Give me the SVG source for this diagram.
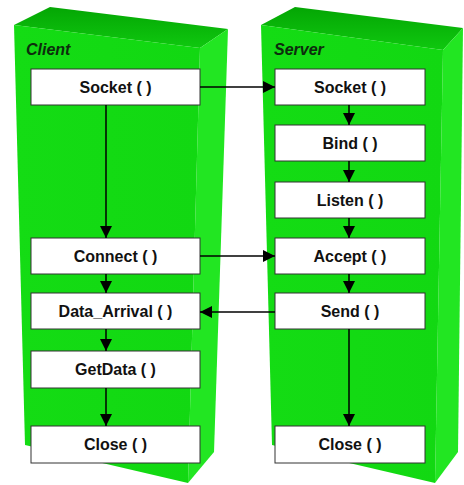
<svg xmlns="http://www.w3.org/2000/svg" width="464" height="485" viewBox="0 0 464 485">
<defs>
<linearGradient id="topG" x1="0" y1="0" x2="0" y2="1">
<stop offset="0" stop-color="#04a604"/>
<stop offset="1" stop-color="#0fc80f"/>
</linearGradient>
<linearGradient id="frontG" x1="0" y1="0" x2="1" y2="0">
<stop offset="0" stop-color="#14dc14"/>
<stop offset="1" stop-color="#12d812"/>
</linearGradient>
<marker id="ah" viewBox="0 0 12 12" refX="12" refY="6" markerWidth="12" markerHeight="12" markerUnits="userSpaceOnUse" orient="auto">
<path d="M0,0 L12,6 L0,12 z" fill="#000"/>
</marker>
</defs>
<style>
.top{fill:url(#topG)}
.front{fill:url(#frontG)}
.side{fill:#22e622}
.box{fill:#fff;stroke:#333;stroke-width:1}
.lbl{font-family:"Liberation Sans",Arial,sans-serif;font-size:16px;font-weight:bold;fill:#111;text-anchor:middle}
.title{font-family:"Liberation Sans",Arial,sans-serif;font-size:16px;font-weight:bold;font-style:italic;fill:#0d2d0d}
.con{stroke:#000;stroke-width:1.5;fill:none;marker-end:url(#ah)}
</style>
<rect width="464" height="485" fill="#fff"/>
<g id="client-pillar">
<polygon class="top" points="14,25 50,7 228,29 200,48"/>
<polygon class="side" points="200,48 228,29 214,452 188,483"/>
<polygon class="front" points="14,25 200,48 188,483 25,445"/>
<text class="title" x="26" y="55">Client</text>
</g>
<g id="server-pillar">
<polygon class="top" points="261,25 295,7 463,28 443,50"/>
<polygon class="side" points="443,50 463,28 458,452 435,483"/>
<polygon class="front" points="261,25 443,50 435,483 272,445"/>
<text class="title" x="274" y="55">Server</text>
</g>
<g id="c-socket"><rect class="box" x="31" y="69" width="169" height="36"/><text class="lbl" x="115.5" y="92.7">Socket ( )</text></g>
<g id="c-connect"><rect class="box" x="31" y="238" width="169" height="36"/><text class="lbl" x="115.5" y="261.7">Connect ( )</text></g>
<g id="c-data"><rect class="box" x="31" y="293" width="169" height="36"/><text class="lbl" x="115.5" y="316.7">Data_Arrival ( )</text></g>
<g id="c-getdata"><rect class="box" x="31" y="351" width="169" height="37"/><text class="lbl" x="115.5" y="375.2">GetData ( )</text></g>
<g id="c-close"><rect class="box" x="31" y="426" width="169" height="37"/><text class="lbl" x="115.5" y="450.2">Close ( )</text></g>
<g id="s-socket"><rect class="box" x="275" y="69" width="150" height="36"/><text class="lbl" x="350" y="92.7">Socket ( )</text></g>
<g id="s-bind"><rect class="box" x="275" y="125" width="150" height="36"/><text class="lbl" x="350" y="148.7">Bind ( )</text></g>
<g id="s-listen"><rect class="box" x="275" y="182" width="150" height="36"/><text class="lbl" x="350" y="205.7">Listen ( )</text></g>
<g id="s-accept"><rect class="box" x="275" y="238" width="150" height="36"/><text class="lbl" x="350" y="261.7">Accept ( )</text></g>
<g id="s-send"><rect class="box" x="275" y="293" width="150" height="36"/><text class="lbl" x="350" y="316.7">Send ( )</text></g>
<g id="s-close"><rect class="box" x="275" y="426" width="150" height="37"/><text class="lbl" x="350" y="450.2">Close ( )</text></g>
<g id="connectors">
<line class="con" x1="106" y1="105" x2="106" y2="238"/>
<line class="con" x1="106" y1="274" x2="106" y2="293"/>
<line class="con" x1="106" y1="329" x2="106" y2="351"/>
<line class="con" x1="106" y1="388" x2="106" y2="426"/>
<line class="con" x1="349" y1="105" x2="349" y2="125"/>
<line class="con" x1="349" y1="161" x2="349" y2="182"/>
<line class="con" x1="349" y1="218" x2="349" y2="238"/>
<line class="con" x1="349" y1="274" x2="349" y2="293"/>
<line class="con" x1="349" y1="329" x2="349" y2="426"/>
<line class="con" x1="200" y1="87" x2="275" y2="87"/>
<line class="con" x1="200" y1="256" x2="275" y2="256"/>
<line class="con" x1="275" y1="312" x2="200" y2="312"/>
</g>
</svg>
